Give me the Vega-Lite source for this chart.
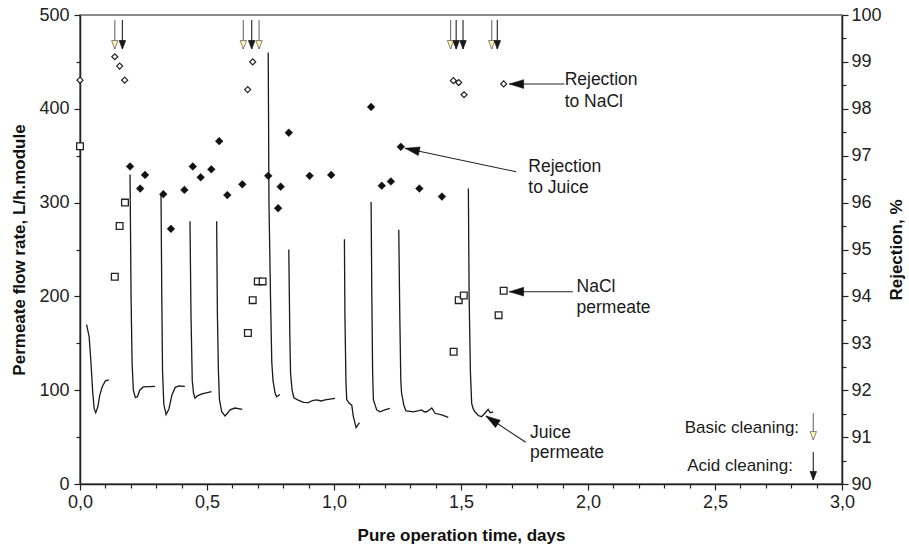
{
  "$schema": "https://vega.github.io/schema/vega-lite/v6.json",
  "width": 762,
  "height": 469,
  "autosize": "none",
  "padding": {"left": 80, "top": 15, "right": 67, "bottom": 69},
  "background": "white",
  "config": {
    "font": "Liberation Sans",
    "view": {"stroke": "#666", "strokeWidth": 1.5},
    "axis": {
      "grid": false,
      "labelFont": "Liberation Sans",
      "labelFontSize": 18,
      "labelColor": "#222",
      "titleFont": "Liberation Sans",
      "titleFontSize": 17,
      "titleFontWeight": "bold",
      "titleColor": "#111",
      "domainColor": "#222",
      "domainWidth": 1.5,
      "tickColor": "#222",
      "tickWidth": 1.2
    }
  },
  "datasets": {
    "flux": [
      {"seg": 1, "x": 0.026, "y": 170}, {"seg": 1, "x": 0.036, "y": 157}, {"seg": 1, "x": 0.043, "y": 130}, {"seg": 1, "x": 0.050, "y": 98}, {"seg": 1, "x": 0.056, "y": 80}, {"seg": 1, "x": 0.062, "y": 76}, {"seg": 1, "x": 0.070, "y": 82}, {"seg": 1, "x": 0.078, "y": 95}, {"seg": 1, "x": 0.088, "y": 104}, {"seg": 1, "x": 0.100, "y": 110}, {"seg": 1, "x": 0.114, "y": 111},
      {"seg": 2, "x": 0.197, "y": 330}, {"seg": 2, "x": 0.201, "y": 200}, {"seg": 2, "x": 0.205, "y": 130}, {"seg": 2, "x": 0.210, "y": 100}, {"seg": 2, "x": 0.218, "y": 92}, {"seg": 2, "x": 0.226, "y": 93}, {"seg": 2, "x": 0.235, "y": 100}, {"seg": 2, "x": 0.249, "y": 103.5}, {"seg": 2, "x": 0.296, "y": 104},
      {"seg": 3, "x": 0.319, "y": 308}, {"seg": 3, "x": 0.322, "y": 200}, {"seg": 3, "x": 0.325, "y": 120}, {"seg": 3, "x": 0.330, "y": 85}, {"seg": 3, "x": 0.339, "y": 74}, {"seg": 3, "x": 0.350, "y": 80}, {"seg": 3, "x": 0.362, "y": 95}, {"seg": 3, "x": 0.375, "y": 103}, {"seg": 3, "x": 0.390, "y": 104.5}, {"seg": 3, "x": 0.413, "y": 104},
      {"seg": 4, "x": 0.433, "y": 280}, {"seg": 4, "x": 0.437, "y": 180}, {"seg": 4, "x": 0.442, "y": 110}, {"seg": 4, "x": 0.447, "y": 97}, {"seg": 4, "x": 0.453, "y": 91.5}, {"seg": 4, "x": 0.462, "y": 94}, {"seg": 4, "x": 0.480, "y": 96}, {"seg": 4, "x": 0.518, "y": 98.5},
      {"seg": 5, "x": 0.538, "y": 280}, {"seg": 5, "x": 0.541, "y": 180}, {"seg": 5, "x": 0.545, "y": 120}, {"seg": 5, "x": 0.549, "y": 90}, {"seg": 5, "x": 0.558, "y": 77}, {"seg": 5, "x": 0.571, "y": 72.5}, {"seg": 5, "x": 0.582, "y": 76}, {"seg": 5, "x": 0.591, "y": 79}, {"seg": 5, "x": 0.610, "y": 81}, {"seg": 5, "x": 0.639, "y": 79.5},
      {"seg": 6, "x": 0.741, "y": 460}, {"seg": 6, "x": 0.744, "y": 300}, {"seg": 6, "x": 0.750, "y": 200}, {"seg": 6, "x": 0.755, "y": 130}, {"seg": 6, "x": 0.760, "y": 110}, {"seg": 6, "x": 0.768, "y": 97}, {"seg": 6, "x": 0.774, "y": 93}, {"seg": 6, "x": 0.787, "y": 95.5},
      {"seg": 7, "x": 0.822, "y": 250}, {"seg": 7, "x": 0.826, "y": 160}, {"seg": 7, "x": 0.829, "y": 118}, {"seg": 7, "x": 0.835, "y": 100}, {"seg": 7, "x": 0.842, "y": 92}, {"seg": 7, "x": 0.859, "y": 89.5}, {"seg": 7, "x": 0.880, "y": 87}, {"seg": 7, "x": 0.899, "y": 86.7}, {"seg": 7, "x": 0.915, "y": 89}, {"seg": 7, "x": 0.932, "y": 89.6}, {"seg": 7, "x": 0.950, "y": 88.5}, {"seg": 7, "x": 0.965, "y": 89.6}, {"seg": 7, "x": 1.004, "y": 91.4},
      {"seg": 8, "x": 1.041, "y": 261}, {"seg": 8, "x": 1.043, "y": 180}, {"seg": 8, "x": 1.047, "y": 110}, {"seg": 8, "x": 1.050, "y": 90}, {"seg": 8, "x": 1.060, "y": 86}, {"seg": 8, "x": 1.070, "y": 84}, {"seg": 8, "x": 1.076, "y": 72}, {"seg": 8, "x": 1.087, "y": 60}, {"seg": 8, "x": 1.100, "y": 65.4},
      {"seg": 9, "x": 1.146, "y": 300.6}, {"seg": 9, "x": 1.149, "y": 200}, {"seg": 9, "x": 1.152, "y": 120}, {"seg": 9, "x": 1.155, "y": 90}, {"seg": 9, "x": 1.168, "y": 79}, {"seg": 9, "x": 1.181, "y": 77}, {"seg": 9, "x": 1.200, "y": 79}, {"seg": 9, "x": 1.220, "y": 80.7},
      {"seg": 10, "x": 1.255, "y": 271}, {"seg": 10, "x": 1.259, "y": 180}, {"seg": 10, "x": 1.263, "y": 110}, {"seg": 10, "x": 1.266, "y": 97}, {"seg": 10, "x": 1.275, "y": 84}, {"seg": 10, "x": 1.283, "y": 78}, {"seg": 10, "x": 1.300, "y": 77.5}, {"seg": 10, "x": 1.312, "y": 77}, {"seg": 10, "x": 1.330, "y": 78}, {"seg": 10, "x": 1.345, "y": 79}, {"seg": 10, "x": 1.355, "y": 77}, {"seg": 10, "x": 1.365, "y": 77}, {"seg": 10, "x": 1.375, "y": 79}, {"seg": 10, "x": 1.385, "y": 81}, {"seg": 10, "x": 1.398, "y": 75.4}, {"seg": 10, "x": 1.424, "y": 73.6}, {"seg": 10, "x": 1.450, "y": 71},
      {"seg": 11, "x": 1.529, "y": 315}, {"seg": 11, "x": 1.532, "y": 200}, {"seg": 11, "x": 1.537, "y": 120}, {"seg": 11, "x": 1.542, "y": 86}, {"seg": 11, "x": 1.548, "y": 80}, {"seg": 11, "x": 1.555, "y": 77}, {"seg": 11, "x": 1.568, "y": 73}, {"seg": 11, "x": 1.581, "y": 71.8}, {"seg": 11, "x": 1.594, "y": 75.4}, {"seg": 11, "x": 1.607, "y": 79.6}, {"seg": 11, "x": 1.615, "y": 76}, {"seg": 11, "x": 1.627, "y": 77}
    ],
    "nacl_perm": [
      {"x": 0.0, "y": 360}, {"x": 0.137, "y": 221}, {"x": 0.156, "y": 275}, {"x": 0.177, "y": 300},
      {"x": 0.661, "y": 161}, {"x": 0.680, "y": 196}, {"x": 0.700, "y": 216}, {"x": 0.719, "y": 216},
      {"x": 1.471, "y": 141}, {"x": 1.491, "y": 196}, {"x": 1.511, "y": 201}, {"x": 1.648, "y": 180}, {"x": 1.668, "y": 206}
    ],
    "rej_nacl": [
      {"x": 0.0, "y": 98.61}, {"x": 0.137, "y": 99.11}, {"x": 0.156, "y": 98.91}, {"x": 0.176, "y": 98.61},
      {"x": 0.660, "y": 98.41}, {"x": 0.680, "y": 99.0},
      {"x": 1.470, "y": 98.6}, {"x": 1.491, "y": 98.56}, {"x": 1.512, "y": 98.3}, {"x": 1.668, "y": 98.53}
    ],
    "rej_juice": [
      {"x": 0.197, "y": 96.77}, {"x": 0.237, "y": 96.30}, {"x": 0.256, "y": 96.59}, {"x": 0.328, "y": 96.18},
      {"x": 0.358, "y": 95.44}, {"x": 0.411, "y": 96.27}, {"x": 0.444, "y": 96.77}, {"x": 0.475, "y": 96.54},
      {"x": 0.517, "y": 96.71}, {"x": 0.548, "y": 97.31}, {"x": 0.580, "y": 96.16}, {"x": 0.639, "y": 96.39},
      {"x": 0.741, "y": 96.57}, {"x": 0.780, "y": 95.88}, {"x": 0.790, "y": 96.34}, {"x": 0.822, "y": 97.49},
      {"x": 0.904, "y": 96.57}, {"x": 0.989, "y": 96.59}, {"x": 1.146, "y": 98.04}, {"x": 1.188, "y": 96.36},
      {"x": 1.224, "y": 96.45}, {"x": 1.263, "y": 97.19}, {"x": 1.336, "y": 96.30}, {"x": 1.425, "y": 96.13}
    ],
    "clean": [
      {"x": 0.137, "y": 463.8, "ytop": 494.7, "type": "basic"},
      {"x": 0.643, "y": 463.8, "ytop": 494.7, "type": "basic"},
      {"x": 0.705, "y": 463.8, "ytop": 494.7, "type": "basic"},
      {"x": 1.459, "y": 463.8, "ytop": 494.7, "type": "basic"},
      {"x": 1.621, "y": 463.8, "ytop": 494.7, "type": "basic"},
      {"x": 2.887, "y": 46.9, "ytop": 75.7, "type": "basic"},
      {"x": 0.167, "y": 463.8, "ytop": 494.7, "type": "acid"},
      {"x": 0.676, "y": 463.8, "ytop": 494.7, "type": "acid"},
      {"x": 1.481, "y": 463.8, "ytop": 494.7, "type": "acid"},
      {"x": 1.508, "y": 463.8, "ytop": 494.7, "type": "acid"},
      {"x": 1.643, "y": 463.8, "ytop": 494.7, "type": "acid"},
      {"x": 2.887, "y": 4.3, "ytop": 34.1, "type": "acid"}
    ],
    "pointers": [
      {"name": "rej_nacl", "x": 1.690, "y": 426.4, "x2": 1.907, "y2": 426.4},
      {"name": "rej_juice", "x": 1.280, "y": 357.9, "x2": 1.717, "y2": 332.9},
      {"name": "nacl_perm", "x": 1.690, "y": 205.0, "x2": 1.940, "y2": 205.0},
      {"name": "juice_perm", "x": 1.598, "y": 72.5, "x2": 1.755, "y2": 44.5}
    ],
    "labels_left": [
      {"x": 1.908, "y": 430.7, "text": "Rejection"},
      {"x": 1.908, "y": 407.6, "text": "to NaCl"},
      {"x": 1.765, "y": 338.3, "text": "Rejection"},
      {"x": 1.765, "y": 315.2, "text": "to Juice"},
      {"x": 1.955, "y": 210.3, "text": "NaCl"},
      {"x": 1.955, "y": 187.3, "text": "permeate"},
      {"x": 1.772, "y": 54.7, "text": "Juice"},
      {"x": 1.772, "y": 32.7, "text": "permeate"}
    ],
    "labels_right": [
      {"x": 2.831, "y": 59.7, "text": "Basic cleaning:"},
      {"x": 2.807, "y": 19.2, "text": "Acid cleaning:"}
    ]
  },
  "encoding": {
    "x": {
      "field": "x",
      "type": "quantitative",
      "scale": {"domain": [0, 3], "nice": false, "zero": false},
      "axis": {
        "title": "Pure operation time, days",
        "values": [0, 0.1, 0.2, 0.3, 0.4, 0.5, 0.6, 0.7, 0.8, 0.9, 1, 1.1, 1.2, 1.3, 1.4, 1.5, 1.6, 1.7, 1.8, 1.9, 2, 2.1, 2.2, 2.3, 2.4, 2.5, 2.6, 2.7, 2.8, 2.9, 3],
        "labelExpr": "abs(datum.value * 2 - round(datum.value * 2)) < 0.000001 ? replace(format(datum.value, '.1f'), '.', ',') : ''",
        "tickSize": {"condition": {"test": "abs(datum.value * 2 - round(datum.value * 2)) < 0.000001", "value": 6}, "value": 4},
        "labelPadding": 3,
        "titlePadding": 16,
        "labelFlush": false,
        "labelOverlap": false
      }
    }
  },
  "layer": [
    {
      "encoding": {
        "y": {
          "field": "y",
          "type": "quantitative",
          "scale": {"domain": [0, 500], "nice": false, "zero": false},
          "axis": {
            "title": "Permeate flow rate, L/h.module",
            "values": [0, 50, 100, 150, 200, 250, 300, 350, 400, 450, 500],
            "labelExpr": "datum.value % 100 === 0 ? datum.label : ''",
            "tickSize": {"condition": {"test": "datum.value % 100 === 0", "value": 6}, "value": 4},
            "labelPadding": 5,
            "titlePadding": 10,
            "labelFlush": false,
            "labelOverlap": false
          }
        }
      },
      "layer": [
        {
          "data": {"name": "flux"},
          "mark": {"type": "line", "stroke": "#1a1a1a", "strokeWidth": 1.3, "clip": true},
          "encoding": {"detail": {"field": "seg", "type": "nominal"}}
        },
        {
          "data": {"name": "nacl_perm"},
          "mark": {"type": "point", "shape": "square", "filled": true, "fill": "white", "stroke": "#222", "strokeWidth": 1.3, "size": 45, "opacity": 1}
        },
        {
          "data": {"name": "clean"},
          "transform": [{"filter": "datum.type === 'basic'"}],
          "mark": {"type": "rule", "stroke": "#777", "strokeWidth": 1.2},
          "encoding": {"y2": {"field": "ytop"}}
        },
        {
          "data": {"name": "clean"},
          "transform": [{"filter": "datum.type === 'acid'"}],
          "mark": {"type": "rule", "stroke": "#333", "strokeWidth": 1.2},
          "encoding": {"y2": {"field": "ytop"}}
        },
        {
          "data": {"name": "clean"},
          "transform": [{"filter": "datum.type === 'basic'"}],
          "mark": {"type": "point", "shape": "M-0.8,-2.1L0.8,-2.1L0,0Z", "size": 64, "filled": true, "fill": "#fff7b0", "stroke": "#666", "strokeWidth": 0.8, "opacity": 1}
        },
        {
          "data": {"name": "clean"},
          "transform": [{"filter": "datum.type === 'acid'"}],
          "mark": {"type": "point", "shape": "M-0.8,-2.1L0.8,-2.1L0,0Z", "size": 64, "filled": true, "fill": "#1a1a1a", "stroke": "#1a1a1a", "strokeWidth": 0.8, "opacity": 1}
        },
        {
          "data": {"name": "pointers"},
          "mark": {"type": "rule", "stroke": "#222", "strokeWidth": 1.1},
          "encoding": {"x2": {"field": "x2"}, "y2": {"field": "y2"}}
        },
        {
          "data": {"name": "pointers"},
          "transform": [{"filter": "datum.name === 'rej_nacl' || datum.name === 'nacl_perm'"}],
          "mark": {"type": "point", "shape": "M0,0L3.6,-1.1L3.6,1.1Z", "size": 64, "filled": true, "fill": "#111", "stroke": "#111", "strokeWidth": 0.5, "opacity": 1, "angle": 0}
        },
        {
          "data": {"name": "pointers"},
          "transform": [{"filter": "datum.name === 'rej_juice'"}],
          "mark": {"type": "point", "shape": "M0,0L3.6,-1.1L3.6,1.1Z", "size": 64, "filled": true, "fill": "#111", "stroke": "#111", "strokeWidth": 0.5, "opacity": 1, "angle": 12}
        },
        {
          "data": {"name": "pointers"},
          "transform": [{"filter": "datum.name === 'juice_perm'"}],
          "mark": {"type": "point", "shape": "M0,0L3.6,-1.1L3.6,1.1Z", "size": 64, "filled": true, "fill": "#111", "stroke": "#111", "strokeWidth": 0.5, "opacity": 1, "angle": 33.5}
        },
        {
          "data": {"name": "labels_left"},
          "mark": {"type": "text", "align": "left", "baseline": "middle", "fontSize": 17.5, "font": "Liberation Sans", "fill": "#1a1a1a"},
          "encoding": {"text": {"field": "text", "type": "nominal"}}
        },
        {
          "data": {"name": "labels_right"},
          "mark": {"type": "text", "align": "right", "baseline": "middle", "fontSize": 17, "font": "Liberation Sans", "fill": "#1a1a1a"},
          "encoding": {"text": {"field": "text", "type": "nominal"}}
        }
      ]
    },
    {
      "encoding": {
        "y": {
          "field": "y",
          "type": "quantitative",
          "scale": {"domain": [90, 100], "nice": false, "zero": false},
          "axis": {
            "orient": "right",
            "title": "Rejection, %",
            "titleAngle": 270,
            "titleBaseline": "top",
            "values": [90, 90.5, 91, 91.5, 92, 92.5, 93, 93.5, 94, 94.5, 95, 95.5, 96, 96.5, 97, 97.5, 98, 98.5, 99, 99.5, 100],
            "labelExpr": "datum.value % 1 === 0 ? format(datum.value, 'd') : ''",
            "tickSize": {"condition": {"test": "datum.value % 1 === 0", "value": 6}, "value": 4},
            "labelPadding": 3,
            "titlePadding": 7,
            "labelFlush": false,
            "labelOverlap": false
          }
        }
      },
      "layer": [
        {
          "data": {"name": "rej_nacl"},
          "mark": {"type": "point", "shape": "diamond", "filled": true, "fill": "white", "stroke": "#222", "strokeWidth": 1.2, "size": 36, "opacity": 1}
        },
        {
          "data": {"name": "rej_juice"},
          "mark": {"type": "point", "shape": "diamond", "filled": true, "fill": "#111", "stroke": "#111", "strokeWidth": 0.5, "size": 60, "opacity": 1}
        }
      ]
    }
  ],
  "resolve": {"scale": {"y": "independent"}}
}
